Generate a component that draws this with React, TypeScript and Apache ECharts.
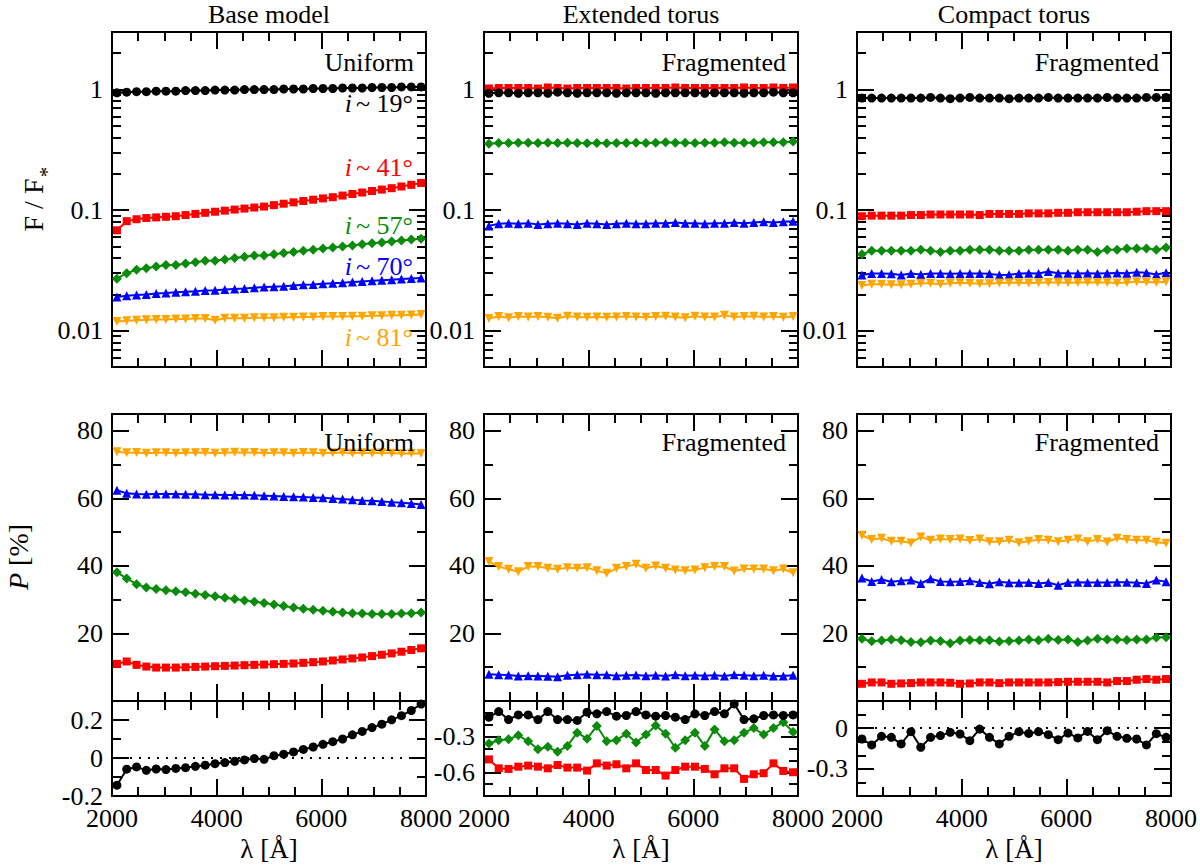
import React, { useEffect, useRef } from "react";
import * as echarts from "echarts";

// ---------- wavelengths (Å) ----------
const WAVELENGTH = [2094, 2281, 2469, 2656, 2844, 3031, 3219, 3406, 3594, 3781, 3969, 4156, 4344, 4531, 4719, 4906, 5094, 5281, 5469, 5656, 5844, 6031, 6219, 6406, 6594, 6781, 6969, 7156, 7344, 7531, 7719, 7906];

// ---------- top row: F / F* ----------
const FLUX_BASE_19 = [0.94, 0.95, 0.96, 0.96, 0.97, 0.97, 0.97, 0.98, 0.98, 0.98, 0.99, 0.99, 0.99, 1.0, 1.0, 1.0, 1.0, 1.01, 1.01, 1.01, 1.02, 1.02, 1.02, 1.03, 1.03, 1.03, 1.04, 1.04, 1.04, 1.05, 1.05, 1.05];
const FLUX_BASE_41 = [0.068, 0.081, 0.084, 0.086, 0.087, 0.088, 0.089, 0.091, 0.093, 0.095, 0.097, 0.099, 0.101, 0.103, 0.105, 0.107, 0.11, 0.113, 0.116, 0.119, 0.122, 0.125, 0.128, 0.132, 0.136, 0.14, 0.144, 0.148, 0.152, 0.157, 0.162, 0.168];
const FLUX_BASE_57 = [0.027, 0.03, 0.032, 0.033, 0.034, 0.035, 0.035, 0.036, 0.037, 0.038, 0.038, 0.039, 0.04, 0.041, 0.042, 0.042, 0.043, 0.044, 0.045, 0.046, 0.047, 0.048, 0.049, 0.05, 0.051, 0.052, 0.053, 0.054, 0.055, 0.056, 0.057, 0.058];
const FLUX_BASE_70 = [0.019, 0.0195, 0.0198, 0.02, 0.0203, 0.0205, 0.0208, 0.021, 0.0212, 0.0215, 0.0217, 0.022, 0.0222, 0.0224, 0.0227, 0.023, 0.0232, 0.0234, 0.0237, 0.024, 0.0242, 0.0245, 0.0248, 0.025, 0.0253, 0.0256, 0.0259, 0.0262, 0.0265, 0.0268, 0.0271, 0.0274];
const FLUX_BASE_81 = [0.0119, 0.0121, 0.0122, 0.0123, 0.0124, 0.0124, 0.0125, 0.0125, 0.0126, 0.0126, 0.0122, 0.0127, 0.0127, 0.0127, 0.0128, 0.0128, 0.0128, 0.0129, 0.0129, 0.013, 0.013, 0.0131, 0.0131, 0.0131, 0.0132, 0.0132, 0.0133, 0.0133, 0.0134, 0.0134, 0.0135, 0.0136];

const FLUX_EXT_19 = [0.93, 0.94, 0.94, 0.93, 0.94, 0.94, 0.93, 0.95, 0.94, 0.93, 0.94, 0.94, 0.94, 0.93, 0.94, 0.94, 0.94, 0.93, 0.94, 0.94, 0.94, 0.94, 0.93, 0.94, 0.94, 0.94, 0.93, 0.94, 0.94, 0.95, 0.94, 0.94];
const FLUX_EXT_41 = [1.02, 1.03, 1.03, 1.03, 1.03, 1.02, 1.04, 1.03, 1.02, 1.03, 1.03, 1.03, 1.03, 1.03, 1.02, 1.03, 1.03, 1.03, 1.03, 1.04, 1.03, 1.03, 1.03, 1.03, 1.03, 1.03, 1.04, 1.03, 1.03, 1.04, 1.03, 1.04];
const FLUX_EXT_57 = [0.355, 0.36, 0.36, 0.362, 0.362, 0.36, 0.362, 0.36, 0.362, 0.36, 0.358, 0.36, 0.358, 0.36, 0.36, 0.362, 0.36, 0.362, 0.365, 0.362, 0.362, 0.36, 0.362, 0.362, 0.365, 0.362, 0.362, 0.362, 0.365, 0.365, 0.365, 0.37];
const FLUX_EXT_70 = [0.074, 0.077, 0.078, 0.077, 0.078, 0.076, 0.077, 0.078, 0.077, 0.076, 0.078, 0.077, 0.076, 0.077, 0.078, 0.077, 0.077, 0.078, 0.078, 0.079, 0.078, 0.078, 0.077, 0.078, 0.078, 0.079, 0.078, 0.079, 0.08, 0.079, 0.08, 0.081];
const FLUX_EXT_81 = [0.0126, 0.0131, 0.0128, 0.0131, 0.013, 0.0131, 0.0129, 0.0127, 0.0132, 0.013, 0.0129, 0.013, 0.0129, 0.013, 0.0131, 0.013, 0.0129, 0.0131, 0.0132, 0.013, 0.0128, 0.0132, 0.013, 0.013, 0.0134, 0.013, 0.0131, 0.0132, 0.013, 0.0131, 0.0129, 0.0131];

const FLUX_CMP_19 = [0.85, 0.85, 0.85, 0.85, 0.85, 0.85, 0.85, 0.86, 0.85, 0.84, 0.85, 0.86, 0.85, 0.85, 0.85, 0.84, 0.85, 0.85, 0.85, 0.86, 0.85, 0.85, 0.85, 0.85, 0.85, 0.86, 0.85, 0.85, 0.85, 0.86, 0.86, 0.86];
const FLUX_CMP_41 = [0.089, 0.09, 0.09, 0.09, 0.09, 0.091, 0.091, 0.092, 0.092, 0.092, 0.092, 0.092, 0.091, 0.093, 0.093, 0.093, 0.093, 0.094, 0.094, 0.094, 0.095, 0.095, 0.096, 0.096, 0.096, 0.096, 0.096, 0.096, 0.097, 0.098, 0.098, 0.098];
const FLUX_CMP_57 = [0.043, 0.046, 0.046, 0.046, 0.046, 0.046, 0.047, 0.046, 0.045, 0.046, 0.046, 0.047, 0.047, 0.047, 0.046, 0.046, 0.046, 0.047, 0.047, 0.047, 0.047, 0.046, 0.047, 0.047, 0.045, 0.047, 0.047, 0.048, 0.048, 0.048, 0.047, 0.049];
const FLUX_CMP_70 = [0.029, 0.0298, 0.0298, 0.0297, 0.029, 0.0298, 0.0292, 0.0298, 0.0298, 0.0297, 0.0298, 0.0298, 0.0298, 0.0296, 0.029, 0.0291, 0.0298, 0.0299, 0.0298, 0.031, 0.0299, 0.0299, 0.0298, 0.0299, 0.0298, 0.03, 0.0301, 0.03, 0.0305, 0.0302, 0.0292, 0.0303];
const FLUX_CMP_81 = [0.0237, 0.0243, 0.0243, 0.024, 0.024, 0.0243, 0.0247, 0.0247, 0.0243, 0.0247, 0.025, 0.0247, 0.0245, 0.0245, 0.0249, 0.025, 0.025, 0.0249, 0.025, 0.0251, 0.0251, 0.025, 0.0251, 0.0252, 0.0251, 0.0251, 0.0249, 0.0251, 0.0255, 0.0254, 0.0251, 0.0255];

// ---------- middle row: P [%] ----------
const POL_BASE_41 = [11.0, 11.7, 10.7, 10.2, 9.9, 9.9, 9.9, 10.0, 10.1, 10.2, 10.3, 10.4, 10.5, 10.6, 10.7, 10.8, 10.9, 11.0, 11.1, 11.3, 11.5, 11.7, 12.0, 12.3, 12.6, 12.9, 13.3, 13.7, 14.1, 14.6, 15.1, 15.6];
const POL_BASE_57 = [38.1, 36.3, 34.6, 33.6, 33.2, 32.8, 32.5, 32.2, 31.8, 31.4, 31.0, 30.6, 30.2, 29.8, 29.4, 29.0, 28.6, 28.1, 27.7, 27.3, 27.0, 26.7, 26.4, 26.2, 26.0, 25.9, 25.8, 25.8, 25.8, 25.9, 26.0, 26.2];
const POL_BASE_70 = [62.4, 61.5, 61.3, 61.2, 61.3, 61.3, 61.3, 61.2, 61.2, 61.1, 61.1, 61.0, 61.0, 61.0, 60.9, 60.8, 60.7, 60.6, 60.5, 60.4, 60.3, 60.2, 60.0, 59.8, 59.6, 59.4, 59.3, 59.1, 58.9, 58.7, 58.5, 58.2];
const POL_BASE_81 = [73.8, 73.5, 73.6, 73.4, 73.5, 73.5, 73.4, 73.5, 73.5, 73.6, 73.4, 73.5, 73.7, 73.5, 73.6, 73.4, 73.5, 73.5, 73.4, 73.6, 73.5, 73.4, 73.5, 73.6, 73.4, 73.5, 73.4, 73.5, 73.4, 73.3, 73.4, 73.3];

const POL_EXT_70 = [7.9, 7.8, 7.7, 7.4, 7.5, 7.4, 7.3, 7.2, 7.6, 7.8, 7.9, 7.8, 7.8, 7.5, 7.6, 7.7, 7.5, 7.6, 7.4, 7.8, 7.5, 7.6, 7.5, 7.6, 7.4, 7.8, 7.6, 7.5, 7.6, 7.4, 7.4, 7.6];
const POL_EXT_81 = [41.3, 39.8, 39.0, 38.3, 39.8, 39.8, 39.3, 39.0, 39.5, 39.3, 39.5, 38.6, 37.8, 39.3, 39.8, 40.5, 39.3, 40.0, 39.3, 38.8, 38.6, 38.8, 39.5, 39.8, 39.8, 38.5, 39.1, 39.1, 39.1, 38.6, 39.1, 38.0];

const POL_CMP_41 = [5.1, 5.5, 5.5, 5.1, 5.2, 5.3, 5.5, 5.5, 5.5, 5.4, 5.1, 5.2, 5.5, 5.5, 5.3, 5.5, 5.5, 5.5, 5.5, 5.5, 5.6, 5.7, 5.7, 5.7, 5.7, 5.5, 5.9, 5.9, 6.3, 6.5, 6.3, 6.5];
const POL_CMP_57 = [18.4, 17.7, 17.9, 18.2, 18.0, 17.5, 17.4, 17.9, 17.8, 17.1, 17.9, 18.1, 18.0, 18.0, 17.6, 17.8, 17.9, 18.2, 18.0, 18.4, 18.1, 18.2, 17.5, 17.9, 18.4, 18.2, 18.2, 18.1, 18.2, 18.2, 18.8, 18.9];
const POL_CMP_70 = [36.4, 35.4, 36.0, 35.3, 35.6, 35.8, 34.8, 36.2, 35.4, 35.3, 35.4, 35.6, 35.1, 34.7, 35.3, 35.0, 35.0, 35.1, 34.8, 35.1, 34.3, 35.1, 35.2, 35.1, 35.1, 35.1, 35.2, 35.2, 35.0, 34.8, 35.8, 35.3];
const POL_CMP_81 = [49.1, 47.8, 48.2, 47.3, 47.3, 46.8, 48.6, 47.6, 48.0, 47.8, 48.0, 47.5, 48.0, 47.2, 47.2, 47.6, 46.9, 47.3, 47.8, 47.6, 47.2, 47.6, 48.0, 47.2, 47.8, 47.1, 48.2, 47.8, 47.6, 47.6, 47.0, 46.7];

// ---------- bottom row ----------
const LOW_BASE_19 = [-0.143, -0.059, -0.047, -0.065, -0.058, -0.061, -0.055, -0.051, -0.044, -0.038, -0.03, -0.024, -0.017, -0.01, -0.003, -0.007, 0.012, 0.02, 0.032, 0.045, 0.058, 0.072, 0.086, 0.1, 0.122, 0.14, 0.16, 0.178, 0.201, 0.223, 0.25, 0.284];
const LOW_EXT_19 = [-0.136, -0.089, -0.156, -0.117, -0.117, -0.156, -0.089, -0.156, -0.156, -0.164, -0.094, -0.108, -0.089, -0.128, -0.122, -0.089, -0.117, -0.128, -0.122, -0.136, -0.156, -0.108, -0.122, -0.089, -0.108, -0.025, -0.156, -0.15, -0.122, -0.117, -0.122, -0.117];
const LOW_EXT_57 = [-0.358, -0.331, -0.322, -0.289, -0.339, -0.406, -0.386, -0.428, -0.378, -0.267, -0.317, -0.211, -0.339, -0.331, -0.275, -0.35, -0.283, -0.206, -0.275, -0.394, -0.331, -0.267, -0.378, -0.239, -0.339, -0.331, -0.267, -0.228, -0.283, -0.228, -0.178, -0.261];
const LOW_EXT_41 = [-0.492, -0.567, -0.572, -0.553, -0.544, -0.553, -0.567, -0.539, -0.561, -0.561, -0.586, -0.525, -0.544, -0.533, -0.567, -0.525, -0.581, -0.581, -0.628, -0.581, -0.553, -0.553, -0.572, -0.617, -0.567, -0.567, -0.656, -0.617, -0.608, -0.525, -0.589, -0.6];
const LOW_CMP_19 = [-0.08, -0.124, -0.06, -0.068, -0.116, -0.026, -0.141, -0.068, -0.055, -0.031, -0.043, -0.092, -0.007, -0.068, -0.116, -0.06, -0.026, -0.039, -0.026, -0.048, -0.085, -0.036, -0.072, -0.024, -0.085, -0.019, -0.06, -0.075, -0.08, -0.124, -0.041, -0.068];

// ---------- ticks ----------
const WAVE_TICKS = [2000, 4000, 6000, 8000];
const FLUX_TICKS = [0.01, 0.1, 1];
const FLUX_MINOR_TICKS = [0.006, 0.007, 0.008, 0.009, 0.02, 0.03, 0.04, 0.05, 0.06, 0.07, 0.08, 0.09, 0.2, 0.3, 0.4, 0.5, 0.6, 0.7, 0.8, 0.9, 2];
const POL_TICKS = [20, 40, 60, 80];
const POL_MINOR_TICKS = [10, 30, 50, 70];
const LOW_BASE_TICKS = [-0.2, 0, 0.2];
const LOW_BASE_MINOR = [-0.1, 0.1];
const LOW_EXT_TICKS = [-0.6, -0.3];
const LOW_EXT_MINOR = [-0.7, -0.5, -0.4, -0.2, -0.1];
const LOW_CMP_TICKS = [-0.3, 0];
const LOW_CMP_MINOR = [-0.4, -0.2, -0.1, 0.1];

// ---------- texts ----------
const COLUMN_TITLES = ["Base model", "Extended torus", "Compact torus"];
const MODE_LABELS = ["Uniform", "Fragmented", "Fragmented"];
const INCLINATIONS = ["19", "41", "57", "70", "81"];

// ---------- styles / layout ----------
const FONT = "'Liberation Serif', 'DejaVu Serif', serif";
const MARK: Record<string, { color: string; symbol: string; size: number; rotate: number }> = {
  i19: { color: "#000000", symbol: "circle", size: 9, rotate: 0 },
  i41: { color: "#ff0000", symbol: "rect", size: 8, rotate: 0 },
  i57: { color: "#0a8c0a", symbol: "diamond", size: 10, rotate: 0 },
  i70: { color: "#0000ff", symbol: "triangle", size: 9, rotate: 0 },
  i81: { color: "#ffa500", symbol: "triangle", size: 9, rotate: 180 },
};
const COL_LEFT = [112, 484, 857];
const COL_WIDTH = 314;
const ROW_BOX = [
  { top: 32, height: 335 },
  { top: 414, height: 287 },
  { top: 701, height: 95 },
];

type YCfg = { type: string; min: number; max: number; ticks: number[]; minor: number[] };
const FLUX_Y: YCfg = { type: "log", min: 0.005, max: 3, ticks: FLUX_TICKS, minor: FLUX_MINOR_TICKS };
const POL_Y: YCfg = { type: "value", min: 0, max: 85, ticks: POL_TICKS, minor: POL_MINOR_TICKS };
const LOW_Y: YCfg[] = [
  { type: "value", min: -0.2, max: 0.3, ticks: LOW_BASE_TICKS, minor: LOW_BASE_MINOR },
  { type: "value", min: -0.8, max: 0, ticks: LOW_EXT_TICKS, minor: LOW_EXT_MINOR },
  { type: "value", min: -0.5, max: 0.2, ticks: LOW_CMP_TICKS, minor: LOW_CMP_MINOR },
];

type Panel = { col: number; row: number; y: YCfg; lines: [string, number[]][]; zero?: boolean };
const PANELS: Panel[] = [
  { col: 0, row: 0, y: FLUX_Y, lines: [["i41", FLUX_BASE_41], ["i57", FLUX_BASE_57], ["i70", FLUX_BASE_70], ["i81", FLUX_BASE_81], ["i19", FLUX_BASE_19]] },
  { col: 1, row: 0, y: FLUX_Y, lines: [["i41", FLUX_EXT_41], ["i57", FLUX_EXT_57], ["i70", FLUX_EXT_70], ["i81", FLUX_EXT_81], ["i19", FLUX_EXT_19]] },
  { col: 2, row: 0, y: FLUX_Y, lines: [["i41", FLUX_CMP_41], ["i57", FLUX_CMP_57], ["i70", FLUX_CMP_70], ["i81", FLUX_CMP_81], ["i19", FLUX_CMP_19]] },
  { col: 0, row: 1, y: POL_Y, lines: [["i41", POL_BASE_41], ["i57", POL_BASE_57], ["i70", POL_BASE_70], ["i81", POL_BASE_81]] },
  { col: 1, row: 1, y: POL_Y, lines: [["i70", POL_EXT_70], ["i81", POL_EXT_81]] },
  { col: 2, row: 1, y: POL_Y, lines: [["i41", POL_CMP_41], ["i57", POL_CMP_57], ["i70", POL_CMP_70], ["i81", POL_CMP_81]] },
  { col: 0, row: 2, y: LOW_Y[0], lines: [["i19", LOW_BASE_19]], zero: true },
  { col: 1, row: 2, y: LOW_Y[1], lines: [["i41", LOW_EXT_41], ["i57", LOW_EXT_57], ["i19", LOW_EXT_19]] },
  { col: 2, row: 2, y: LOW_Y[2], lines: [["i19", LOW_CMP_19]], zero: true },
];

const tickLine = { color: "#000", width: 2 };
const MAJOR_LEN = 17;
const MINOR_LEN = 9;
const fmt = (v: number) => String(Math.round(v * 10000) / 10000);

function buildOption() {
  const grid: any[] = [];
  const xAxis: any[] = [];
  const yAxis: any[] = [];
  const series: any[] = [];

  PANELS.forEach((p, gi) => {
    const box = ROW_BOX[p.row];
    grid.push({
      left: COL_LEFT[p.col], top: box.top, width: COL_WIDTH, height: box.height,
      show: true, borderColor: "#000", borderWidth: 2, backgroundColor: "rgba(0,0,0,0)",
      containLabel: false, outerBoundsMode: "none",
    });
    const xi = xAxis.length;
    (["bottom", "top"] as const).forEach((position) => {
      xAxis.push({
        type: "value", gridIndex: gi, position, min: 2000, max: 8000, interval: 2000,
        axisLine: { show: false, onZero: false },
        axisTick: { show: true, inside: true, length: MAJOR_LEN, lineStyle: tickLine, customValues: WAVE_TICKS },
        minorTick: { show: true, splitNumber: 4, length: MINOR_LEN, lineStyle: tickLine },
        splitLine: { show: false }, minorSplitLine: { show: false },
        axisLabel: {
          show: p.row === 2 && position === "bottom", customValues: WAVE_TICKS,
          margin: 9, color: "#000", fontFamily: FONT, fontSize: 26, formatter: fmt,
        },
      });
    });
    const yi = yAxis.length;
    (["left", "right"] as const).forEach((position) => {
      const base = {
        type: p.y.type, logBase: 10, gridIndex: gi, position, min: p.y.min, max: p.y.max,
        axisLine: { show: false, onZero: false }, splitLine: { show: false }, minorSplitLine: { show: false },
      };
      yAxis.push({
        ...base,
        axisTick: { show: true, inside: true, length: MAJOR_LEN, lineStyle: tickLine, customValues: p.y.ticks },
        axisLabel: {
          show: position === "left", customValues: p.y.ticks, formatter: fmt,
          margin: 9, color: "#000", fontFamily: FONT, fontSize: 26,
        },
      });
      yAxis.push({
        ...base,
        axisTick: { show: true, inside: true, length: MINOR_LEN, lineStyle: tickLine, customValues: p.y.minor },
        axisLabel: { show: false },
      });
    });

    p.lines.forEach(([key, values], k) => {
      const m = MARK[key];
      const s: any = {
        type: "line", xAxisIndex: xi, yAxisIndex: yi,
        data: WAVELENGTH.map((w, i) => [w, values[i]]),
        symbol: m.symbol, symbolSize: m.size, symbolRotate: m.rotate, showSymbol: true,
        itemStyle: { color: m.color, borderWidth: 0 },
        lineStyle: { color: m.color, width: 2 },
        emphasis: { disabled: true }, silent: true, z: 3,
      };
      if (p.zero && k === 0) {
        s.markLine = {
          silent: true, symbol: "none", label: { show: false },
          lineStyle: { color: "#000", width: 2, type: [2, 7] },
          data: [{ yAxis: 0 }],
        };
      }
      series.push(s);
    });
  });

  const txt = (x: number, y: number, text: string, extra: any = {}, rot = 0) => ({
    type: "text", x, y, rotation: rot, z: 100,
    style: {
      text, fill: "#000", fontFamily: FONT, fontSize: 26,
      align: "center", verticalAlign: "middle", ...extra,
    },
  });

  const graphic: any[] = [];
  COLUMN_TITLES.forEach((t, c) => graphic.push(txt(COL_LEFT[c] + COL_WIDTH / 2, 14, t, { fontSize: 26 })));
  COL_LEFT.forEach((l) => graphic.push(txt(l + COL_WIDTH / 2, 849, "λ [Å]", { fontSize: 27 })));
  MODE_LABELS.forEach((t, c) => {
    graphic.push(txt(COL_LEFT[c] + COL_WIDTH - 12, 62, t, { align: "right" }));
    graphic.push(txt(COL_LEFT[c] + COL_WIDTH - 12, 442, t, { align: "right" }));
  });
  const incY = [103, 167, 225, 266, 337];
  const incKeys = ["i19", "i41", "i57", "i70", "i81"];
  INCLINATIONS.forEach((deg, k) => {
    const color = MARK[incKeys[k]].color;
    graphic.push(txt(COL_LEFT[0] + COL_WIDTH - 13, incY[k], `{it|i}{n|~ ${deg}°}`, {
      align: "right", fill: color,
      rich: {
        it: { fontStyle: "italic", fontFamily: FONT, fontSize: 26, fill: color, padding: [0, 4, 0, 0] },
        n: { fontFamily: FONT, fontSize: 26, fill: color },
      },
    }));
  });
  graphic.push(txt(33, 205, "F / F", { fontSize: 28 }, Math.PI / 2));
  graphic.push(txt(47, 172, "*", { fontSize: 21 }, Math.PI / 2));
  graphic.push(txt(18, 557, "{it|P} [%]", {
    fontSize: 28,
    rich: {
      it: { fontStyle: "italic", fontFamily: FONT, fontSize: 28 },
    },
  }, Math.PI / 2));

  return { animation: false, backgroundColor: "#fff", grid, xAxis, yAxis, series, graphic };
}

export default function App() {
  const ref = useRef<HTMLDivElement>(null);
  useEffect(() => {
    const chart = echarts.init(ref.current!, null, { renderer: "svg", width: 1200, height: 866 });
    chart.setOption(buildOption() as any);
    return () => chart.dispose();
  }, []);
  return (
    <div
      ref={ref}
      style={{ position: "fixed", left: 0, top: 0, width: 1200, height: 866, background: "#fff" }}
    />
  );
}
